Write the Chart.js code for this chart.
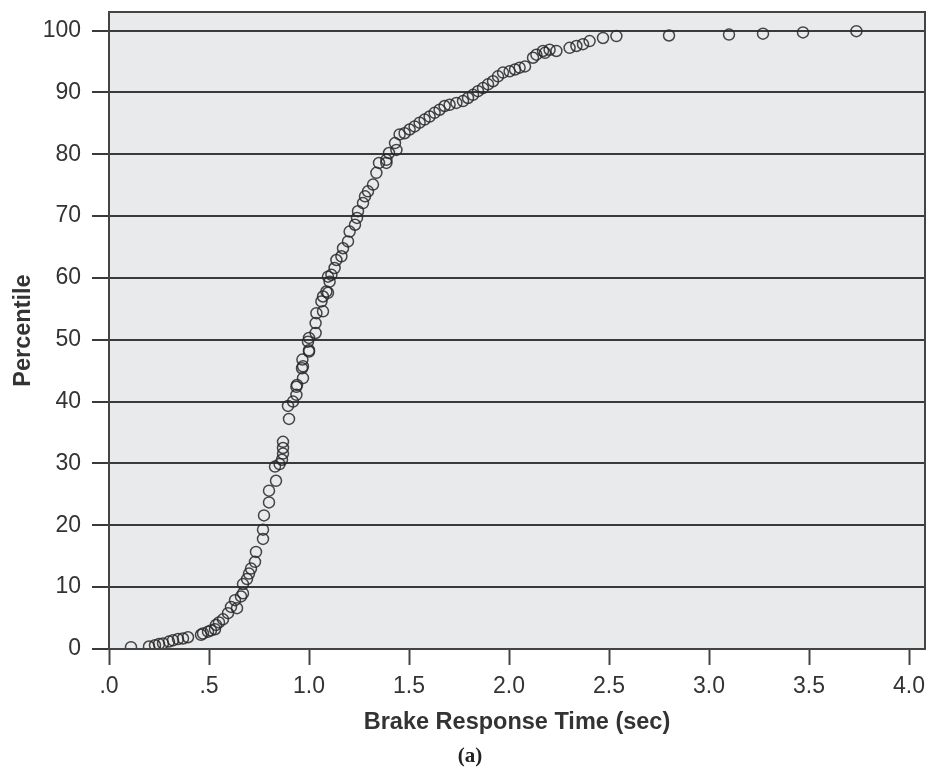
<!DOCTYPE html>
<html>
<head>
<meta charset="utf-8">
<script src="https://cdn.jsdelivr.net/npm/chart.js@4.4.0/dist/chart.umd.min.js"></script>
<style>
  html, body { margin: 0; padding: 0; background: #ffffff; }
  #wrap { width: 928px; height: 770px; }
</style>
</head>
<body>
<div id="wrap"><canvas id="c" width="928" height="770"></canvas></div>
<script>
// Brake response time (sec) of each observation
const responseTimes = [
  0.11, 0.20, 0.23, 0.25, 0.27, 0.30, 0.32, 0.345, 0.37, 0.395,
  0.46, 0.47, 0.495, 0.51, 0.53, 0.535, 0.55, 0.57, 0.595, 0.61,
  0.64, 0.63, 0.66, 0.67, 0.67, 0.69, 0.70, 0.71, 0.73,
  0.735, 0.77, 0.77, 0.775, 0.80, 0.80, 0.835, 0.83, 0.853, 0.865,
  0.87, 0.87, 0.87, 0.90, 0.895, 0.92,
  0.937, 0.937, 0.94, 0.97, 0.965, 0.97, 0.967, 1.00, 1.00, 0.995,
  1.00, 1.033, 1.033, 1.037, 1.07, 1.062, 1.07, 1.087, 1.095, 1.103,
  1.095, 1.112,
  1.128, 1.137, 1.162, 1.17, 1.195, 1.203, 1.23, 1.24, 1.245, 1.27,
  1.28, 1.295, 1.32, 1.337, 1.35, 1.387,
  1.387, 1.40, 1.437, 1.43, 1.453, 1.478, 1.503, 1.528, 1.553, 1.578,
  1.603, 1.628, 1.653, 1.678, 1.703, 1.737, 1.77, 1.795, 1.82, 1.845,
  1.87, 1.895, 1.92, 1.945, 1.97, 2.003, 2.03, 2.053, 2.08, 2.12,
  2.137, 2.17, 2.18, 2.203, 2.237, 2.303, 2.337, 2.37, 2.403, 2.47,
  2.537, 2.80, 3.10, 3.27, 3.47, 3.737
];
// Percentile of each observation
const percentiles = [
  0.3, 0.4, 0.6, 0.8, 0.9, 1.2, 1.4, 1.6, 1.7, 1.9,
  2.3, 2.5, 2.8, 3.0, 3.2, 3.9, 4.3, 4.8, 5.8, 6.8,
  6.6, 7.9, 8.5, 9.0, 10.5, 11.3, 12.2, 13.0, 14.1,
  15.7, 17.8, 19.3, 21.6, 23.7, 25.6, 27.2, 29.5, 29.9, 30.6,
  31.6, 32.5, 33.5, 37.2, 39.3, 40.0,
  41.1, 42.4, 42.7, 43.8, 45.4, 45.7, 46.8, 48.1, 48.3, 49.7,
  50.3, 51.1, 52.7, 54.3, 54.6, 56.2, 57.0, 57.8, 57.6, 59.4,
  60.2, 60.5,
  61.6, 62.9, 63.5, 64.8, 65.9, 67.5, 68.6, 69.7, 70.8, 72.1,
  73.2, 74.0, 75.1, 77.0, 78.6, 78.6,
  79.1, 80.2, 80.7, 81.8, 83.2, 83.4, 84.0, 84.5, 85.1, 85.6,
  86.1, 86.7, 87.2, 87.8, 88.0, 88.3, 88.6, 89.1, 89.6, 90.2,
  90.7, 91.3, 91.8, 92.6, 93.2, 93.4, 93.7, 94.0, 94.2, 95.6,
  96.1, 96.7, 96.4, 96.9, 96.7, 97.2, 97.5, 97.8, 98.3, 98.8,
  99.1, 99.2, 99.35, 99.5, 99.7, 99.9
];
const xTickValues = [0, 0.5, 1.0, 1.5, 2.0, 2.5, 3.0, 3.5, 4.0];
const yTickValues = [0, 10, 20, 30, 40, 50, 60, 70, 80, 90, 100];
const xTitle = 'Brake Response Time (sec)';
const yTitle = 'Percentile';
const captionText = '(a)';

const points = responseTimes.map((t, i) => ({ x: t, y: percentiles[i] }));
const fmtX = v => (v < 1 ? '.' + Math.round(v * 10) : v.toFixed(1));

const frame = {
  id: 'frame',
  beforeDraw(chart) {
    const a = chart.chartArea, ctx = chart.ctx;
    ctx.save();
    ctx.fillStyle = '#e9eaec';
    ctx.fillRect(a.left, a.top, a.right - a.left, a.bottom - a.top);
    ctx.restore();
  },
  afterDraw(chart) {
    const a = chart.chartArea, ctx = chart.ctx;
    ctx.save();
    ctx.strokeStyle = '#444';
    ctx.lineWidth = 2;
    ctx.strokeRect(a.left, a.top, a.right - a.left, a.bottom - a.top);
    ctx.fillStyle = '#222';
    ctx.font = 'bold 21px "Liberation Serif", "Times New Roman", serif';
    ctx.textAlign = 'center';
    ctx.textBaseline = 'middle';
    ctx.fillText(captionText, 470, 757);
    ctx.restore();
  }
};

new Chart(document.getElementById('c'), {
  type: 'scatter',
  data: {
    datasets: [{
      data: points,
      pointStyle: 'circle',
      pointRadius: 5.5,
      pointHoverRadius: 5.5,
      pointBorderWidth: 1.5,
      borderColor: 'rgba(40,40,40,0.85)',
      backgroundColor: 'rgba(0,0,0,0)'
    }]
  },
  options: {
    responsive: false,
    devicePixelRatio: 1,
    animation: false,
    layout: { autoPadding: false, padding: { left: 0, right: 3, top: 12, bottom: 0 } },
    plugins: { legend: { display: false }, tooltip: { enabled: false } },
    scales: {
      x: {
        type: 'linear',
        min: 0, max: 4.08,
        afterBuildTicks: s => { s.ticks = xTickValues.map(v => ({ value: v })); },
        afterFit: s => { s.height = 121; s.paddingLeft = 0; s.paddingRight = 0; },
        ticks: {
          stepSize: 0.5,
          autoSkip: false,
          maxRotation: 0,
          padding: 8,
          color: '#333',
          font: { family: '"Liberation Sans", Arial, sans-serif', size: 23 },
          callback: v => fmtX(v)
        },
        grid: {
          drawOnChartArea: false,
          drawTicks: true,
          tickLength: 16,
          tickWidth: 2,
          tickColor: '#444',
          color: '#444'
        },
        border: { display: false },
        title: {
          display: true,
          text: xTitle,
          color: '#333',
          font: { family: '"Liberation Sans", Arial, sans-serif', size: 23.5, weight: 'bold' },
          padding: { top: 0, bottom: 33 }
        }
      },
      y: {
        type: 'linear',
        min: 0, max: 103,
        afterBuildTicks: s => { s.ticks = yTickValues.map(v => ({ value: v })); },
        afterFit: s => { s.width = 109; s.paddingTop = 0; s.paddingBottom = 0; },
        ticks: {
          stepSize: 10,
          autoSkip: false,
          padding: 11,
          color: '#333',
          font: { family: '"Liberation Sans", Arial, sans-serif', size: 23 }
        },
        grid: {
          drawOnChartArea: true,
          drawTicks: true,
          tickLength: 17,
          lineWidth: 2,
          tickWidth: 2,
          color: '#3a3a3a',
          tickColor: '#3a3a3a'
        },
        border: { display: false },
        title: {
          display: true,
          text: yTitle,
          color: '#333',
          font: { family: '"Liberation Sans", Arial, sans-serif', size: 23.5, weight: 'bold' },
          padding: { top: 9, bottom: 0 }
        }
      }
    }
  },
  plugins: [frame]
});
</script>
</body>
</html>
